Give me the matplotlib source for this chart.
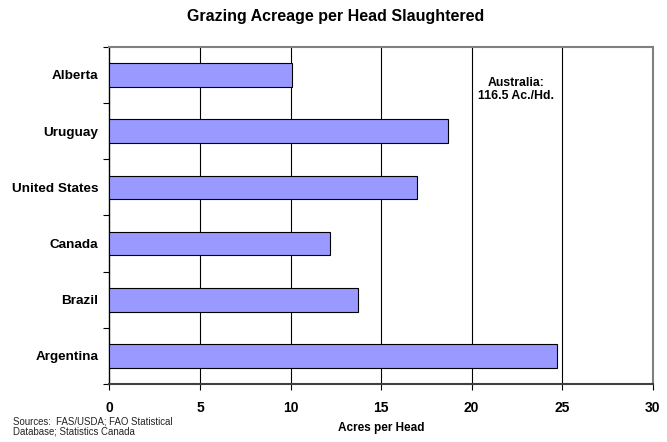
import matplotlib
matplotlib.use("Agg")
import matplotlib.pyplot as plt
import numpy as np

plt.rcParams['font.family'] = ['Liberation Sans', 'DejaVu Sans']

countries = ["Argentina", "Brazil", "Canada", "United States", "Uruguay", "Alberta"]
acres_per_head = [24.7, 13.7, 12.2, 17.0, 18.7, 10.1]
x_ticks = [0, 5, 10, 15, 20, 25, 30]

fig = plt.figure(figsize=(6.67, 4.42), dpi=100)
ax = fig.add_axes([0.164, 0.131, 0.8146, 0.763])

ypos = np.arange(len(countries))
ax.barh(ypos, acres_per_head, height=0.42, color="#9999FF",
        edgecolor="black", linewidth=0.8, zorder=3)

ax.set_xlim(0, 30)
ax.set_ylim(-0.5, len(countries) - 0.5)
ax.set_xticks(x_ticks)
ax.set_xticklabels([str(t) for t in x_ticks], fontweight="bold", fontsize=10)
ax.set_yticks(ypos)
ax.set_yticklabels(countries, fontweight="bold", fontsize=9.7)
ax.tick_params(axis="y", length=0, pad=8)
ax.set_yticks(np.arange(-0.5, len(countries), 1.0), minor=True)
ax.tick_params(axis="y", which="minor", length=4, width=0.8, direction="out")
ax.tick_params(axis="x", length=4, width=0.8, direction="out", pad=8)

for v in x_ticks[1:-1]:
    ax.axvline(v, color="black", linewidth=0.8, zorder=1)

for side in ["top", "right"]:
    ax.spines[side].set_color("#808080")
    ax.spines[side].set_linewidth(1.5)
ax.spines["left"].set_color("black")
ax.spines["left"].set_linewidth(1.0)
ax.spines["bottom"].set_color("#404040")
ax.spines["bottom"].set_linewidth(1.5)

ax.text(22.46, 4.745, "Australia:\n116.5 Ac./Hd.", ha="center", va="center",
        fontsize=8.8, fontweight="bold", linespacing=1.15, zorder=4)

fig.text(0.503, 0.962, "Grazing Acreage per Head Slaughtered", ha="center",
         va="center", fontsize=11.5, fontweight="bold")
fig.text(0.571, 0.032, "Acres per Head", ha="center", va="center",
         fontsize=8.5, fontweight="bold")
fig.text(0.019, 0.036, "Sources:  FAS/USDA; FAO Statistical\nDatabase; Statistics Canada",
         ha="left", va="center", fontsize=6.9, linespacing=1.0, color="#222222")

fig.savefig("out.png", dpi=100)
